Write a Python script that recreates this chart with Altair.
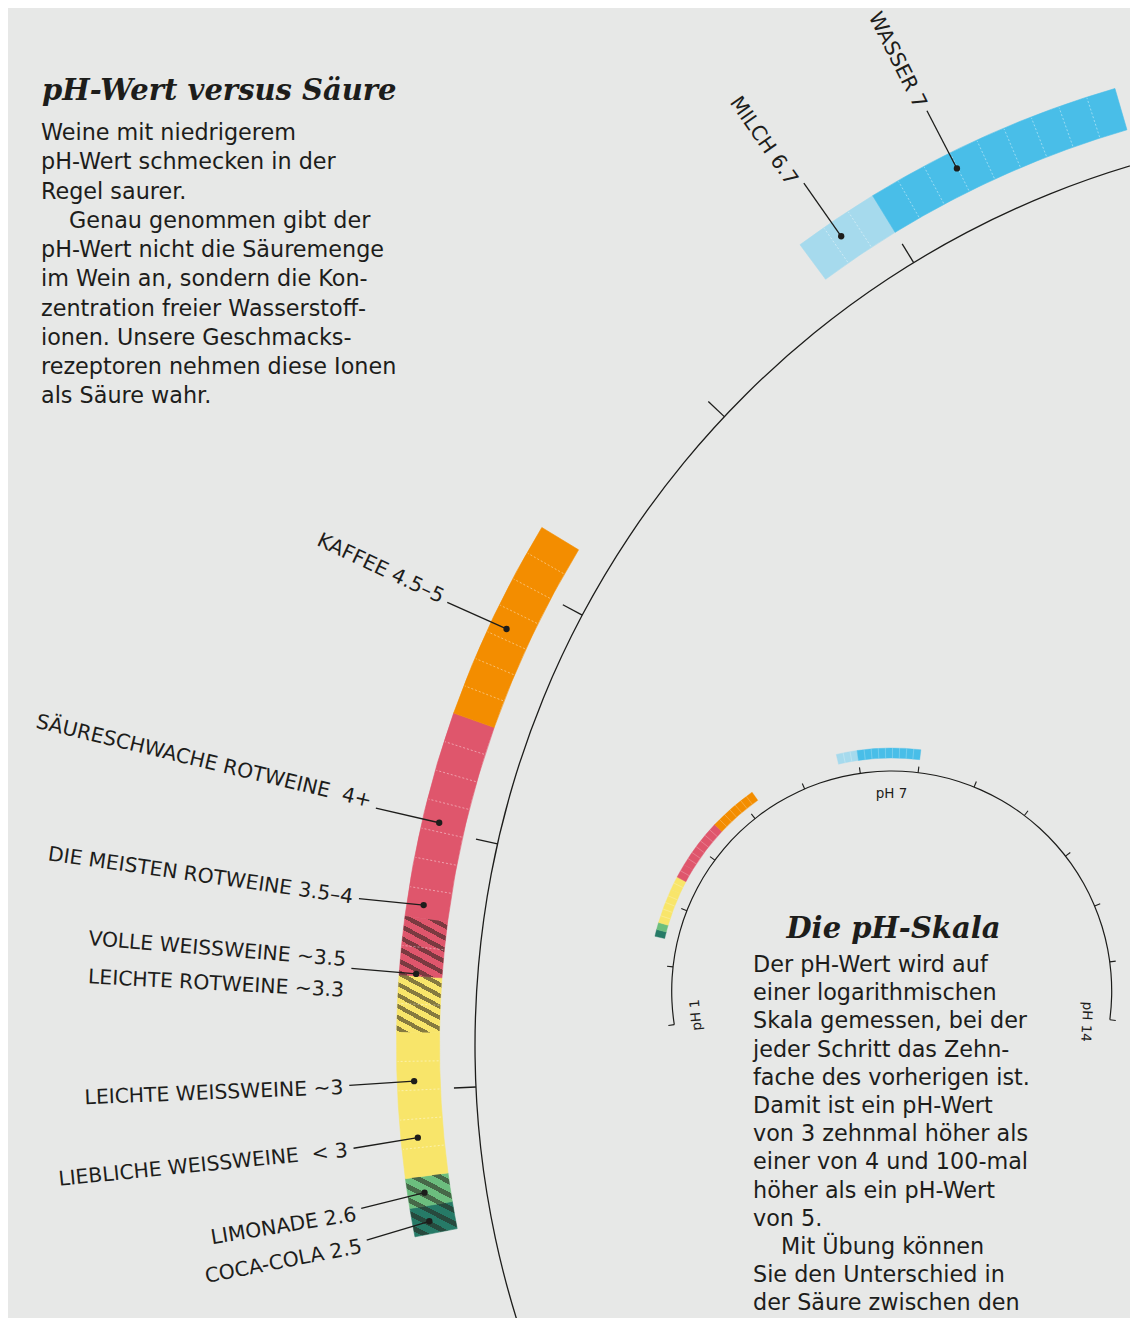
import altair as alt
import pandas as pd

# ---------------- data ----------------
seg_name = ["Coca-Cola", "Limonade", "Weißweine", "Leichte Rotweine", "Volle Weißweine",
            "Rotweine", "Kaffee", "Milch", "Wasser"]
seg_from = [2.445, 2.553, 2.667, 3.22, 3.436, 3.658, 4.445, 6.67, 7.0]
seg_to = [2.553, 2.667, 3.22, 3.436, 3.658, 4.445, 5.22, 7.0, 8.0]
seg_cells = [1, 1, 5, 2, 2, 7, 7, 3, 9]
seg_color = ["#267a67", "#6cbe7e", "#f8e56a", "#f8e56a", "#df566c",
             "#df566c", "#f38d00", "#a6daed", "#49bee8"]
seg_hatch = ["small", "small", "", "big", "big", "", "", "", ""]

lab_text = ["WASSER 7", "MILCH 6.7", "KAFFEE 4.5–5", "SÄURESCHWACHE ROTWEINE\u00a0 4+",
            "DIE MEISTEN ROTWEINE 3.5–4", "VOLLE WEISSWEINE ~3.5", "LEICHTE ROTWEINE ~3.3",
            "LEICHTE WEISSWEINE ~3", "LIEBLICHE WEISSWEINE\u00a0 < 3", "LIMONADE 2.6",
            "COCA-COLA 2.5"]
lab_ph = [7.312, 6.78, 4.82, 4.048, 3.699, 3.475, 3.365, 3.018, 2.793, 2.563, 2.447]

dot_ph = [7.33, 6.816, 4.817, 4.03, 3.709, 3.444, 3.033, 2.816, 2.604, 2.493]
lead_ph = [7.326, 6.813, 4.813, 4.029, 3.699, 3.447, 3.026, 2.80, 2.582, 2.467]

big_ticks = [2, 3, 4, 5, 6, 7, 8]
inset_ticks = [1, 2, 3, 4, 5, 6, 7, 8, 9, 10, 11, 12, 13, 14]
inset_lab = ["pH 1", "pH 7", "pH 14"]
inset_lab_ph = [1.12, 7.54, 14.1]
inset_lab_angle = [265, 0, 93]

title_left = "pH-Wert versus Säure"
body_left = ["Weine mit niedrigerem", "pH-Wert schmecken in der", "Regel saurer.",
             "Genau genommen gibt der",
             "pH-Wert nicht die Säuremenge", "im Wein an, sondern die Kon-",
             "zentration freier Wasserstoff-", "ionen. Unsere Geschmacks-",
             "rezeptoren nehmen diese Ionen", "als Säure wahr."]
body_left_indent = [0, 0, 0, 1, 0, 0, 0, 0, 0, 0]
title_right = "Die pH-Skala"
body_right = ["Der pH-Wert wird auf", "einer logarithmischen", "Skala gemessen, bei der",
              "jeder Schritt das Zehn-", "fache des vorherigen ist.", "Damit ist ein pH-Wert",
              "von 3 zehnmal höher als", "einer von 4 und 100-mal", "höher als ein pH-Wert",
              "von 5.", "Mit Übung können", "Sie den Unterschied in",
              "der Säure zwischen den"]
body_right_indent = [0, 0, 0, 0, 0, 0, 0, 0, 0, 0, 1, 0, 0]

# ---------------- layout ----------------
W, H = 1122, 1310
OFF = 8
BG = "#e7e8e7"
INK = "#1d1d1b"
SANS = "DejaVu Sans"
CXB, CYB = 1393.5 - OFF, 1045.8 - OFF      # big arc centre
T0, T1 = 4.4010, 6.0000                     # theta (rad) of pH 2 and pH 8
CXS, CYS = 891.7 - OFF, 991.0 - OFF         # inset centre
S0, S1 = 4.5588, 7.9848                     # theta (rad) of pH 1 and pH 14

big_theta = alt.Scale(domain=[2, 8], range=[T0, T1], zero=False)
inset_theta = alt.Scale(domain=[1, 14], range=[S0, S1], zero=False)

seg_df = pd.DataFrame({"name": seg_name, "p0": seg_from, "p1": seg_to,
                       "color": seg_color, "hatch": seg_hatch})

sep_p = []
for a, b, n in zip(seg_from, seg_to, seg_cells):
    for k in range(1, n):
        sep_p.append(a + (b - a) * k / n)
sep_df = pd.DataFrame({"p": sep_p})

lab_df = pd.DataFrame({"label": lab_text, "p": lab_ph})
lead_df = pd.DataFrame({"pd": dot_ph, "pl": lead_ph})


def big_t(f):
    return f"({T0} + ({f} - 2) * {(T1 - T0) / 6})"


def small_t(f):
    return f"({S0} + ({f} - 1) * {(S1 - S0) / 13})"


def px(tx, r, cx):
    return f"{cx} + {r} * sin({tx})"


def py(tx, r, cy):
    return f"{cy} - {r} * cos({tx})"


X = lambda f: alt.X(f, scale=None, axis=None)
Y = lambda f: alt.Y(f, scale=None, axis=None)


def stripes(n, dark="rgba(40,34,28,0.55)", frac=0.42):
    clear = "rgba(0,0,0,0)"
    st = []
    for k in range(n):
        a, m, b = k / n, (k + 1 - frac) / n, (k + 1) / n
        st += [alt.GradientStop(offset=a, color=clear), alt.GradientStop(offset=m, color=clear),
               alt.GradientStop(offset=m, color=dark), alt.GradientStop(offset=b, color=dark)]
    return st


grad_big = alt.LinearGradient(gradient="linear", stops=stripes(8),
                              x1=0.2, y1=1.15, x2=0.75, y2=-0.15)
grad_small = alt.LinearGradient(gradient="linear", stops=stripes(5),
                                x1=0.15, y1=1.1, x2=1.0, y2=-0.15)

R_IN, R_OUT = 954, 997
R_AX = 918.5
R_DOT, R_LEAD, R_LAB = 980, 1045, 1051

arc_enc = dict(theta=alt.Theta("p0:Q", scale=big_theta, stack=None), theta2=alt.Theta2("p1:Q"),
               radius=alt.value(R_OUT), radius2=alt.value(R_IN),
               x=alt.value(CXB), y=alt.value(CYB))

bands = alt.Chart(seg_df).mark_arc(strokeWidth=0.6).encode(
    fill=alt.Fill("color:N", scale=None, legend=None),
    stroke=alt.Stroke("color:N", scale=None, legend=None), **arc_enc)

hatch_big = alt.Chart(seg_df).transform_filter("datum.hatch == 'big'").mark_arc(
    fill=grad_big).encode(**arc_enc)
hatch_small = alt.Chart(seg_df).transform_filter("datum.hatch == 'small'").mark_arc(
    fill=grad_small).encode(**arc_enc)

seps = alt.Chart(sep_df).transform_calculate(
    t=big_t("datum.p")
).transform_calculate(
    x=px("datum.t", R_IN + 1, CXB), y=py("datum.t", R_IN + 1, CYB),
    x2=px("datum.t", R_OUT - 1, CXB), y2=py("datum.t", R_OUT - 1, CYB)
).mark_rule(stroke="white", strokeOpacity=0.55, strokeWidth=0.8, strokeDash=[2, 2]).encode(
    x=X("x:Q"), y=Y("y:Q"), x2="x2:Q", y2="y2:Q")

axis_df = pd.DataFrame({"p0": [2], "p1": [8]})
axis_big = alt.Chart(axis_df).mark_arc(fill=INK).encode(
    theta=alt.Theta("p0:Q", scale=big_theta, stack=None), theta2=alt.Theta2("p1:Q"),
    radius=alt.value(R_AX + 0.65), radius2=alt.value(R_AX - 0.65),
    x=alt.value(CXB), y=alt.value(CYB))

ticks_big = alt.Chart(pd.DataFrame({"p": big_ticks})).transform_calculate(
    t=big_t("datum.p")
).transform_calculate(
    x=px("datum.t", R_AX, CXB), y=py("datum.t", R_AX, CYB),
    x2=px("datum.t", R_AX + 22, CXB), y2=py("datum.t", R_AX + 22, CYB)
).mark_rule(stroke=INK, strokeWidth=1.3).encode(
    x=X("x:Q"), y=Y("y:Q"), x2="x2:Q", y2="y2:Q")

leaders = alt.Chart(lead_df).transform_calculate(
    td=big_t("datum.pd"), tl=big_t("datum.pl")
).transform_calculate(
    x=px("datum.td", R_DOT, CXB), y=py("datum.td", R_DOT, CYB),
    x2=px("datum.tl", R_LEAD, CXB), y2=py("datum.tl", R_LEAD, CYB)
).mark_rule(stroke=INK, strokeWidth=1.3).encode(
    x=X("x:Q"), y=Y("y:Q"), x2="x2:Q", y2="y2:Q")

dots = alt.Chart(lead_df).transform_calculate(
    td=big_t("datum.pd")
).transform_calculate(
    x=px("datum.td", R_DOT, CXB), y=py("datum.td", R_DOT, CYB)
).mark_circle(size=40, color=INK, opacity=1).encode(x=X("x:Q"), y=Y("y:Q"))

labels = alt.Chart(lab_df).transform_calculate(
    t=big_t("datum.p")
).transform_calculate(
    x=px("datum.t", R_LAB, CXB), y=py("datum.t", R_LAB, CYB),
    ang="(90 + datum.t * 180 / PI) % 360"
).mark_text(font=SANS, fontSize=20.3, align="right", baseline="middle", color=INK).encode(
    x=X("x:Q"), y=Y("y:Q"), text="label:N", angle=alt.Angle("ang:Q", scale=None))

# ---------------- inset ----------------
SR_IN, SR_OUT, SR_AX = 233, 243, 220
sarc_enc = dict(theta=alt.Theta("p0:Q", scale=inset_theta, stack=None), theta2=alt.Theta2("p1:Q"),
                radius=alt.value(SR_OUT), radius2=alt.value(SR_IN),
                x=alt.value(CXS), y=alt.value(CYS))
s_bands = alt.Chart(seg_df).mark_arc(strokeWidth=0.4).encode(
    fill=alt.Fill("color:N", scale=None, legend=None),
    stroke=alt.Stroke("color:N", scale=None, legend=None), **sarc_enc)

s_seps = alt.Chart(sep_df).transform_calculate(
    t=small_t("datum.p")
).transform_calculate(
    x=px("datum.t", SR_IN, CXS), y=py("datum.t", SR_IN, CYS),
    x2=px("datum.t", SR_OUT, CXS), y2=py("datum.t", SR_OUT, CYS)
).mark_rule(stroke="white", strokeOpacity=0.4, strokeWidth=0.6).encode(
    x=X("x:Q"), y=Y("y:Q"), x2="x2:Q", y2="y2:Q")

s_axis = alt.Chart(pd.DataFrame({"p0": [1], "p1": [14]})).mark_arc(fill=INK).encode(
    theta=alt.Theta("p0:Q", scale=inset_theta, stack=None), theta2=alt.Theta2("p1:Q"),
    radius=alt.value(SR_AX + 0.6), radius2=alt.value(SR_AX - 0.6),
    x=alt.value(CXS), y=alt.value(CYS))

s_ticks = alt.Chart(pd.DataFrame({"p": inset_ticks})).transform_calculate(
    t=small_t("datum.p")
).transform_calculate(
    x=px("datum.t", SR_AX, CXS), y=py("datum.t", SR_AX, CYS),
    x2=px("datum.t", SR_AX + 6, CXS), y2=py("datum.t", SR_AX + 6, CYS)
).mark_rule(stroke=INK, strokeWidth=1.1).encode(
    x=X("x:Q"), y=Y("y:Q"), x2="x2:Q", y2="y2:Q")

s_labels = alt.Chart(pd.DataFrame({"label": inset_lab, "p": inset_lab_ph,
                                   "ang": inset_lab_angle})).transform_calculate(
    t=small_t("datum.p")
).transform_calculate(
    x=px("datum.t", 197, CXS), y=py("datum.t", 197, CYS)
).mark_text(font=SANS, fontSize=13.5, align="center", baseline="middle", color=INK).encode(
    x=X("x:Q"), y=Y("y:Q"), text="label:N", angle=alt.Angle("ang:Q", scale=None))

# ---------------- text blocks ----------------
one = pd.DataFrame({"k": [0]})


def body(lines, indent, x0, y0, lh):
    df = pd.DataFrame({"line": lines, "i": list(range(len(lines))), "ind": indent})
    return alt.Chart(df).transform_calculate(
        x=f"{x0} + datum.ind * 28", y=f"{y0} + datum.i * {lh}"
    ).mark_text(font=SANS, fontSize=22.3, align="left", baseline="alphabetic", color=INK).encode(
        x=X("x:Q"), y=Y("y:Q"), text="line:N")


t_left = alt.Chart(one).mark_text(font="DejaVu Serif", fontStyle="italic", fontWeight="bold",
                                  fontSize=29, align="left", baseline="alphabetic", color=INK).encode(
    x=alt.value(34), y=alt.value(92), text=alt.value(title_left))
b_left = body(body_left, body_left_indent, 33, 132, 29.26)
t_right = alt.Chart(one).mark_text(font="DejaVu Serif", fontStyle="italic", fontWeight="bold",
                                   fontSize=29, align="center", baseline="alphabetic", color=INK).encode(
    x=alt.value(885.5), y=alt.value(929.5), text=alt.value(title_right))
b_right = body(body_right, body_right_indent, 745, 964, 28.2)

chart = alt.layer(
    bands, hatch_big, hatch_small, seps, axis_big, ticks_big, leaders, dots, labels,
    s_bands, s_seps, s_axis, s_ticks, s_labels,
    t_left, b_left, t_right, b_right
).resolve_scale(theta="independent").properties(
    width=W, height=H, padding=0, autosize="none", background=BG
).configure_view(stroke=None)

chart.save("out.html", embed_options={"renderer": "svg", "actions": False})
